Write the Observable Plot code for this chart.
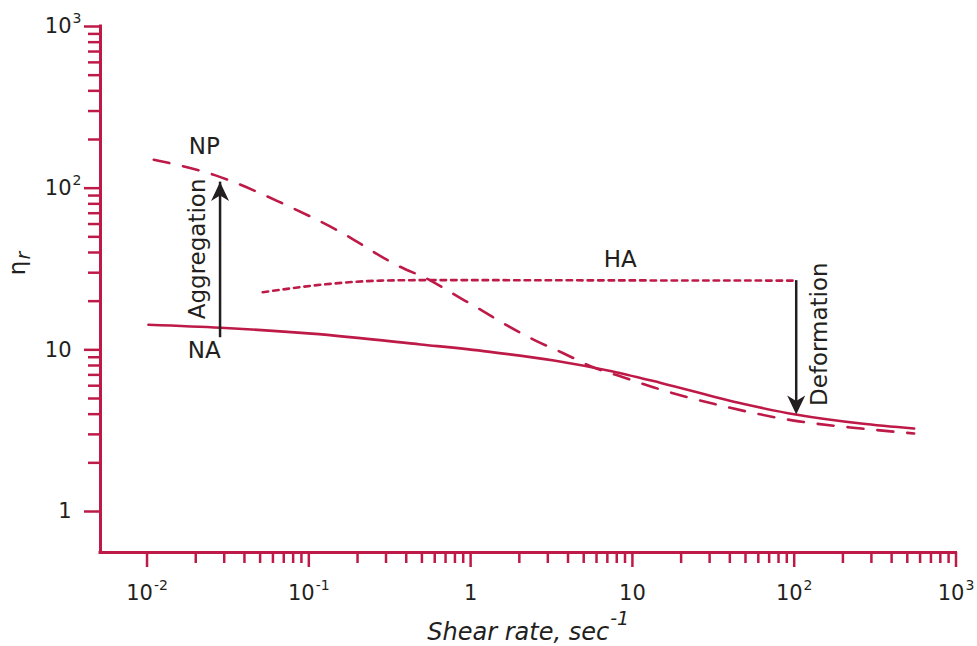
<!DOCTYPE html>
<html><head><meta charset="utf-8">
<script src="https://cdn.jsdelivr.net/npm/d3@7"></script>
<script src="https://cdn.jsdelivr.net/npm/@observablehq/plot@0.6"></script>
<style>body{margin:0;background:#fff} #chart{width:977px;height:646px}</style>
</head><body><div id="chart"></div>
<script>
// ---- data ----
const naX = [0.0102, 0.0285, 0.104, 0.491, 1.28, 3.27, 7.05, 15.0, 48.9, 102, 259, 551];
const naY = [14.3, 13.7, 12.6, 10.8, 9.75, 8.59, 7.45, 6.24, 4.62, 3.98, 3.50, 3.26];
const npX = [0.011, 0.0265, 0.067, 0.151, 0.354, 0.566, 0.774, 1.12, 1.69, 2.52, 3.77, 5.77, 8.85, 13.6, 35.2, 99.6, 259, 551];
const npY = [150, 120, 81.5, 54.7, 33.2, 26.8, 22.3, 18.0, 14.1, 11.4, 9.49, 7.77, 6.75, 5.85, 4.52, 3.65, 3.26, 3.04];
const haX = [0.0519, 0.136, 0.278, 0.566, 6.37, 104];
const haY = [22.7, 25.6, 26.8, 27.0, 26.9, 26.8];

const xTicks = [0.01, 0.1, 1, 10, 100, 1000];
const xTickLabels = ["10^-2", "10^-1", "1", "10", "10^2", "10^3"];
const yTicks = [1, 10, 100, 1000];
const yTickLabels = ["1", "10", "10^2", "10^3"];

const xTitle = "Shear rate, sec^-1";
const yTitle = "η_r";

const curveLabels = [
  {text: "NP", x: 0.0226, y: 163},
  {text: "NA", x: 0.0226, y: 8.96},
  {text: "HA", x: 8.4, y: 32.7}
];
const arrowLabels = [
  {text: "Aggregation", x: 0.02267, y: 42.1},
  {text: "Deformation", x: 159.3, y: 12.5}
];
const arrows = [
  {x: 0.02827, from: 13.7, to: 109},   // up
  {x: 102.9, from: 26.8, to: 3.98}     // down
];

// ---- styling ----
const color = "#be1a48";
const ink = "#231f20";
const xDomain = [Math.pow(10, -2.2876), 1000];
const yDomain = [Math.pow(10, -0.2536), 1000];

const xMinor = [], yMinor = [];
for (let e = -2; e <= 2; e++) for (let m = 2; m <= 9; m++) xMinor.push(m * Math.pow(10, e));
for (let e = 0; e <= 2; e++) for (let m = 2; m <= 9; m++) yMinor.push(m * Math.pow(10, e));

const toRows = (xs, ys) => xs.map((x, i) => ({x, y: ys[i]}));

const headUp = {draw(ctx) { ctx.moveTo(0, 0); ctx.lineTo(9, 19); ctx.lineTo(0, 13.5); ctx.lineTo(-9, 19); ctx.closePath(); }};
const headDown = {draw(ctx) { ctx.moveTo(0, 0); ctx.lineTo(9, -19); ctx.lineTo(0, -13.5); ctx.lineTo(-9, -19); ctx.closePath(); }};

const chart = Plot.plot({
  width: 977,
  height: 646,
  marginLeft: 100,
  marginRight: 21.5,
  marginTop: 26,
  marginBottom: 94,
  style: {fontFamily: "DejaVu Sans", background: "#fff", color: ink, overflow: "visible"},
  x: {type: "log", domain: xDomain},
  y: {type: "log", domain: yDomain},
  marks: [
    Plot.axisX(xMinor, {tickSize: 11, stroke: color, strokeWidth: 2.5, fill: "none", label: null}),
    Plot.axisX(xTicks, {tickSize: 15, tickPadding: 18, stroke: color, strokeWidth: 2.5, fill: ink, fontSize: 21,
      tickFormat: d => xTickLabels[xTicks.indexOf(d)], label: null}),
    Plot.axisY(yMinor, {tickSize: 12, stroke: color, strokeWidth: 2.5, fill: "none", label: null}),
    Plot.axisY(yTicks, {tickSize: 16, tickPadding: 13, stroke: color, strokeWidth: 2.5, fill: ink, fontSize: 21,
      tickFormat: d => yTickLabels[yTicks.indexOf(d)], label: null}),
    Plot.ruleX([xDomain[0]], {stroke: color, strokeWidth: 3, strokeLinecap: "square"}),
    Plot.ruleY([yDomain[0]], {stroke: color, strokeWidth: 3, strokeLinecap: "square"}),

    Plot.line(toRows(naX, naY), {x: "x", y: "y", curve: "monotone-x", stroke: color, strokeWidth: 2.6}),
    Plot.line(toRows(npX, npY), {x: "x", y: "y", curve: "monotone-x", stroke: color, strokeWidth: 2.6, strokeDasharray: "16,14"}),
    Plot.line(toRows(haX, haY), {x: "x", y: "y", curve: "monotone-x", stroke: color, strokeWidth: 2.6, strokeDasharray: "5.5,5"}),

    Plot.ruleX([arrows[0]], {x: "x", y1: "from", y2: "to", stroke: ink, strokeWidth: 2.5, insetTop: 10}),
    Plot.ruleX([arrows[1]], {x: "x", y1: "from", y2: "to", stroke: ink, strokeWidth: 2.5, insetBottom: 10}),
    Plot.dot([arrows[0]], {x: "x", y: "to", symbol: headUp, fill: ink, stroke: "none", r: 5}),
    Plot.dot([arrows[1]], {x: "x", y: "to", symbol: headDown, fill: ink, stroke: "none", r: 5}),

    Plot.text(curveLabels, {x: "x", y: "y", text: "text", fontSize: 23, fill: ink, lineAnchor: "bottom", textAnchor: "middle"}),
    Plot.text(arrowLabels, {x: "x", y: "y", text: "text", fontSize: 23, fill: ink, lineAnchor: "bottom", textAnchor: "middle", rotate: -90}),

    Plot.text([xTitle], {text: d => d, frameAnchor: "bottom", lineAnchor: "bottom", dy: 87, fontSize: 24,
      fontStyle: "italic", fill: ink, textAnchor: "middle"}),
    Plot.text([yTitle], {text: d => d, frameAnchor: "left", y: [34.2], dx: -76, lineAnchor: "bottom", rotate: -90,
      fontSize: 23, fill: ink, textAnchor: "middle"})
  ]
});

document.getElementById("chart").appendChild(chart);

// ---- superscripts / subscripts as real tspans ----
const NS = "http://www.w3.org/2000/svg";
function script(el, sep, size, shift, italic) {
  const s = el.textContent;
  const i = s.indexOf(sep);
  if (i < 0) return null;
  el.textContent = s.slice(0, i);
  const t = document.createElementNS(NS, "tspan");
  t.setAttribute("font-size", size);
  t.setAttribute("dy", shift);
  t.setAttribute("dx", 1);
  if (italic) t.setAttribute("font-style", "italic");
  t.textContent = s.slice(i + 1);
  el.appendChild(t);
  return t;
}
chart.querySelectorAll('g[aria-label="x-axis tick label"] text').forEach(el => script(el, "^", 14, -10));
chart.querySelectorAll('g[aria-label="y-axis tick label"] text').forEach(el => {
  const t = script(el, "^", 14, -10);
  if (t) {
    let w = 9;
    try { w = t.getComputedTextLength() + 1; } catch (e) {}
    el.setAttribute("transform", (el.getAttribute("transform") || "") + ` translate(${w},0)`);
  }
});
chart.querySelectorAll("text").forEach(el => {
  if (el.textContent === xTitle) script(el, "^", 19, -15);
  else if (el.textContent === yTitle) script(el, "_", 19, 5, true);
});
</script>
</body></html>
